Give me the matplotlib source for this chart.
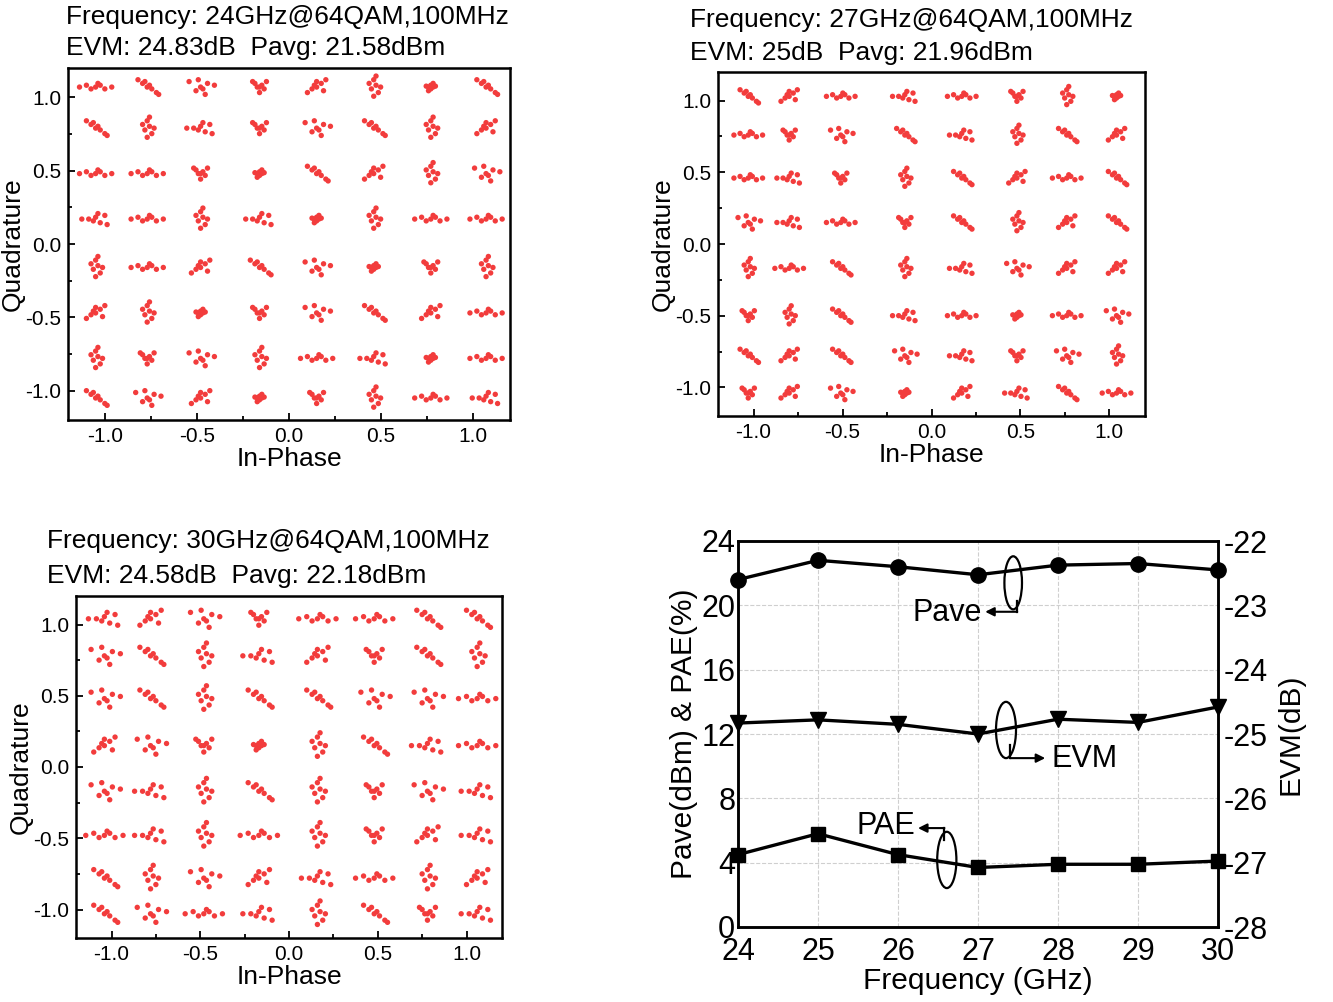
import matplotlib
matplotlib.use('Agg')
import matplotlib.pyplot as plt
from matplotlib.patches import Ellipse
from matplotlib.ticker import MultipleLocator
import numpy as np

plt.rcParams['font.family'] = ['Liberation Sans', 'DejaVu Sans']
plt.rcParams['axes.unicode_minus'] = False

# ---------------- data: PA performance vs frequency ----------------
freq = [24, 25, 26, 27, 28, 29, 30]
pave = [21.6, 22.8, 22.4, 21.9, 22.5, 22.6, 22.2]
pae = [4.5, 5.8, 4.5, 3.7, 3.9, 3.9, 4.1]
evm = [-24.83, -24.78, -24.85, -25.0, -24.77, -24.82, -24.58]

# ---------------- data: constellations ----------------
title_lines = [
    ("Frequency: 24GHz@64QAM,100MHz", "EVM: 24.83dB  Pavg: 21.58dBm"),
    ("Frequency: 27GHz@64QAM,100MHz", "EVM: 25dB  Pavg: 21.96dBm"),
    ("Frequency: 30GHz@64QAM,100MHz", "EVM: 24.58dB  Pavg: 22.18dBm"),
]
# measured cluster centres (I columns, Q rows top->bottom)
cols_24 = [-1.05, -0.77, -0.48, -0.16, 0.15, 0.46, 0.77, 1.07]
rows_24 = [1.07, 0.79, 0.48, 0.17, -0.16, -0.47, -0.78, -1.05]
cols_27 = [-1.03, -0.80, -0.51, -0.15, 0.17, 0.48, 0.76, 1.04]
rows_27 = [1.03, 0.76, 0.46, 0.15, -0.17, -0.50, -0.78, -1.04]
cols_30 = [-1.04, -0.78, -0.48, -0.17, 0.16, 0.48, 0.78, 1.06]
rows_30 = [1.04, 0.78, 0.48, 0.15, -0.17, -0.48, -0.78, -1.03]

# cluster shapes (offsets of the received symbols)
shape_dx = [
    [-0.06, -0.03, 0.00, 0.02, 0.04, 0.01, 0.05, -0.01],
    [0.00, 0.01, -0.01, 0.02, 0.00, 0.03, -0.02, 0.01],
    [-0.04, -0.02, 0.00, 0.02, 0.04, 0.01, 0.05, -0.01],
    [-0.01, 0.00, 0.01, 0.00, 0.02, -0.02, 0.01, -0.01],
    [-0.05, -0.02, 0.00, 0.03, 0.02, 0.06, -0.01, 0.01],
    [-0.07, -0.04, -0.02, 0.00, 0.02, 0.04, 0.07, 0.01],
    [-0.04, -0.02, 0.00, 0.02, 0.04, 0.00, 0.03, -0.01],
    [-0.03, 0.03, 0.00, 0.00, 0.01, -0.01, 0.02, -0.02],
]
shape_dy = [
    [0.00, 0.00, 0.01, -0.02, 0.02, 0.03, -0.03, -0.01],
    [0.04, 0.01, -0.01, -0.03, -0.05, 0.00, 0.02, 0.06],
    [0.04, 0.02, 0.00, -0.01, -0.03, 0.01, -0.04, 0.03],
    [0.00, 0.01, 0.00, -0.01, 0.005, 0.005, 0.02, -0.02],
    [0.03, -0.02, 0.00, 0.02, -0.04, 0.01, 0.04, -0.01],
    [0.00, 0.01, -0.01, 0.00, 0.01, -0.01, 0.00, 0.02],
    [-0.03, -0.01, 0.00, 0.02, 0.04, 0.03, -0.02, 0.01],
    [0.03, 0.03, -0.03, 0.00, 0.01, 0.00, -0.01, 0.02],
]
shape_idx_24 = [
    [5, 2, 4, 7, 6, 1, 3, 2],
    [2, 1, 0, 7, 4, 2, 1, 6],
    [5, 5, 7, 3, 2, 6, 1, 4],
    [0, 5, 1, 0, 3, 1, 5, 5],
    [1, 5, 6, 2, 4, 3, 7, 1],
    [6, 1, 3, 7, 4, 2, 6, 5],
    [1, 7, 4, 1, 5, 0, 3, 5],
    [2, 4, 6, 3, 7, 1, 5, 0],
]
shape_idx_27 = [
    [2, 6, 5, 0, 5, 7, 1, 3],
    [5, 7, 4, 2, 0, 1, 2, 6],
    [5, 0, 7, 1, 2, 6, 5, 2],
    [4, 0, 5, 7, 2, 1, 6, 2],
    [1, 5, 2, 1, 0, 4, 6, 6],
    [7, 1, 2, 0, 5, 3, 5, 4],
    [2, 6, 2, 4, 0, 7, 4, 1],
    [7, 6, 4, 3, 6, 0, 2, 5],
]
shape_idx_30 = [
    [0, 6, 4, 7, 5, 5, 2, 2],
    [4, 2, 1, 0, 6, 7, 2, 1],
    [4, 2, 1, 2, 2, 4, 4, 5],
    [6, 4, 7, 3, 1, 2, 0, 5],
    [4, 0, 1, 2, 1, 7, 4, 0],
    [5, 0, 1, 5, 1, 7, 6, 0],
    [2, 1, 4, 6, 0, 5, 1, 6],
    [2, 4, 5, 0, 1, 2, 7, 0],
]
spread = [1.25, 1.15, 1.5]

fig = plt.figure(figsize=(13.33, 10.02), dpi=100)
W, H = 1333.0, 1002.0

def ax_px(l, t, r, b):
    return fig.add_axes([l / W, 1 - b / H, (r - l) / W, (b - t) / H])

RED = '#f23c3c'
boxes = [(68, 68, 510, 420), (718, 72, 1145, 416), (76, 596, 502, 938)]
title_pos = [(66, 17, 48), (690, 20, 53), (47, 541, 576)]
grids = [(cols_24, rows_24, shape_idx_24), (cols_27, rows_27, shape_idx_27),
         (cols_30, rows_30, shape_idx_30)]

for k in range(3):
    ax = ax_px(*boxes[k])
    cols, rows, idx = grids[k]
    xs, ys = [], []
    for r in range(8):
        for c in range(8):
            s = idx[r][c]
            for dx, dy in zip(shape_dx[s], shape_dy[s]):
                xs.append(cols[c] + spread[k] * dx)
                ys.append(rows[r] + spread[k] * dy)
    ax.scatter(xs, ys, s=15, color=RED, edgecolors='none')
    ax.set_xlim(-1.2, 1.2)
    ax.set_ylim(-1.2, 1.2)
    ax.xaxis.set_major_locator(MultipleLocator(0.5))
    ax.yaxis.set_major_locator(MultipleLocator(0.5))
    ax.xaxis.set_minor_locator(MultipleLocator(0.25))
    ax.yaxis.set_minor_locator(MultipleLocator(0.25))
    ax.xaxis.set_major_formatter(plt.FuncFormatter(lambda v, p: f"{v:.1f}"))
    ax.yaxis.set_major_formatter(plt.FuncFormatter(lambda v, p: f"{v:.1f}"))
    ax.tick_params(which='both', direction='in', labelsize=15, width=1.3, pad=5)
    ax.tick_params(which='major', length=5)
    ax.tick_params(which='minor', length=3)
    for sp in ax.spines.values():
        sp.set_linewidth(1.8)
    ax.set_xlabel("In-Phase", fontsize=19, labelpad=1)
    ax.set_ylabel("Quadrature", fontsize=19, labelpad=0)
    tx, ty1, ty2 = title_pos[k]
    fig.text(tx / W, 1 - ty1 / H, title_lines[k][0], fontsize=19, ha='left', va='center')
    fig.text(tx / W, 1 - ty2 / H, title_lines[k][1], fontsize=19, ha='left', va='center')

# ---------------- performance panel ----------------
ax4 = ax_px(738, 541, 1218, 927)
ax4.plot(freq, pave, '-o', color='black', lw=2.4, ms=11, zorder=5, clip_on=False)
ax4.plot(freq, pae, '-s', color='black', lw=2.4, ms=10, zorder=5, clip_on=False)
ax4.set_xlim(24, 30)
ax4.set_ylim(0, 24)
ax4.set_xticks(freq)
ax4.set_yticks([0, 4, 8, 12, 16, 20, 24])
ax4.grid(True, linestyle='--', color='#cfcfcf', lw=0.8)
ax4.tick_params(direction='in', labelsize=22, length=0)
ax4.tick_params(axis='x', pad=7)
ax4.tick_params(axis='y', pad=2)
for sp in ax4.spines.values():
    sp.set_linewidth(1.8)
ax4.set_xlabel("Frequency (GHz)", fontsize=21.5, labelpad=0)
ax4.set_ylabel("Pave(dBm) & PAE(%)", fontsize=21.5, labelpad=2)

ax5 = ax4.twinx()
ax5.plot(freq, evm, '-v', color='black', lw=2.4, ms=11, zorder=5, clip_on=False)
ax5.set_ylim(-28, -22)
ax5.set_yticks([-28, -27, -26, -25, -24, -23, -22])
ax5.tick_params(direction='in', labelsize=22, length=0, pad=4)
ax5.set_ylabel("EVM(dB)", fontsize=21.5, labelpad=6)
for sp in ax5.spines.values():
    sp.set_linewidth(1.8)

# annotations (ellipses + arrows)
arr = dict(arrowstyle='-|>', color='black', lw=1.5, mutation_scale=13, shrinkA=0, shrinkB=0)
for (cx, cy, w, h) in [(27.44, 21.4, 0.22, 3.3), (27.35, 12.25, 0.25, 3.5), (26.61, 4.17, 0.24, 3.5)]:
    ax4.add_patch(Ellipse((cx, cy), w, h, fill=False, lw=1.6, color='black', zorder=6))
# Pave
ax4.plot([27.49, 27.49], [20.3, 19.6], color='black', lw=1.6)
ax4.annotate('', xy=(27.09, 19.6), xytext=(27.49, 19.6), arrowprops=arr)
ax4.text(27.05, 19.55, "Pave", fontsize=22, ha='right', va='center')
# EVM
ax4.plot([27.4, 27.4], [11.3, 10.5], color='black', lw=1.6)
ax4.annotate('', xy=(27.84, 10.5), xytext=(27.4, 10.5), arrowprops=arr)
ax4.text(27.92, 10.45, "EVM", fontsize=22, ha='left', va='center')
# PAE
ax4.plot([26.58, 26.58], [5.4, 6.15], color='black', lw=1.6)
ax4.annotate('', xy=(26.25, 6.15), xytext=(26.58, 6.15), arrowprops=arr)
ax4.text(26.22, 6.3, "PAE", fontsize=22, ha='right', va='center')

fig.savefig('out.png', dpi=100)
